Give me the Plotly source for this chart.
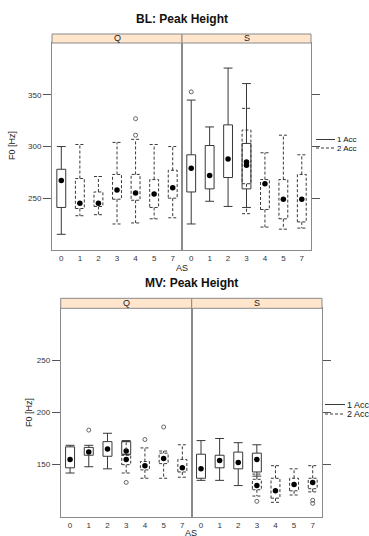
import plotly.graph_objects as go

# ---------------- data ----------------
AS_LABELS = ["0", "1", "2", "3", "4", "5", "7"]

# BL: Peak Height
BL_PANEL = ["Q", "Q", "Q", "Q", "Q", "Q", "Q", "S", "S", "S", "S", "S", "S", "S", "S"]
BL_AS = ["0", "1", "2", "3", "4", "5", "7", "0", "1", "2", "3", "3", "4", "5", "7"]
BL_ACC = [1, 2, 2, 2, 2, 2, 2, 1, 1, 1, 1, 2, 2, 2, 2]
BL_LOW = [215, 233, 234, 225, 226, 230, 231, 225, 247, 242, 241, 235, 222, 220, 221]
BL_Q1 = [241, 240, 242, 249, 248, 241, 250, 256, 259, 270, 259, 264, 239, 230, 227]
BL_MED = [267, 245, 245, 258, 255, 254, 260, 279, 272, 288, 282, 285, 264, 249, 249]
BL_Q3 = [278, 269, 256, 273, 273, 268, 277, 292, 301, 321, 303, 316, 268, 268, 273]
BL_HIGH = [300, 302, 271, 304, 307, 302, 300, 345, 319, 376, 361, 337, 294, 311, 292]
BL_OUT = [[], [], [], [], [311, 327], [], [], [353], [], [], [], [], [], [], []]

# MV: Peak Height
MV_PANEL = ["Q", "Q", "Q", "Q", "Q", "Q", "Q", "Q", "S", "S", "S", "S", "S", "S", "S", "S"]
MV_AS = ["0", "1", "2", "3", "3", "4", "5", "7", "0", "1", "2", "3", "3", "4", "5", "7"]
MV_ACC = [1, 1, 1, 1, 2, 2, 2, 2, 1, 1, 1, 1, 2, 2, 2, 2]
MV_LOW = [142, 148, 146, 159.5, 142, 137, 137, 138, 135, 135, 130, 139, 120, 114, 121, 124]
MV_Q1 = [147, 159, 158, 160, 150, 145, 151, 143, 137, 147, 146, 143, 126, 118, 125, 127]
MV_MED = [155, 162, 165, 163, 155, 149, 156, 147, 146, 154, 152, 155, 130, 125, 131, 133]
MV_Q3 = [167, 166.5, 172, 172, 159, 153, 161, 155, 160, 159, 162, 161, 136, 137, 137, 137]
MV_HIGH = [168.5, 168.5, 180, 173, 172, 166, 163, 169, 173, 175, 171, 169, 141, 149, 146, 149]
MV_OUT = [[], [183], [], [], [133], [174], [186], [], [], [], [], [], [115], [], [], [113, 116]]

BL_YTICKS = [250, 300, 350]
MV_YTICKS = [150, 200, 250]
BL_YRANGE = [199.8, 400.3]
MV_YRANGE = [99.7, 299.4]

# ---------------- layout helpers (pixel -> paper) ----------------
W, H = 369, 536


def px(x):
    return x / W


def py(y):
    return 1 - y / H


BOX_COL = "#383838"
BORDER = "#8a8a8a"
STRIP = "#FFE5CC"
FONT = "Liberation Sans, Arial, sans-serif"
HALF = 0.24

fig = go.Figure()


def add_chart(panels, ases, accs, lows, q1s, meds, q3s, highs, outs, xq, xs, yq, ys):
    for p, a, acc, lo, q1, md, q3, hi, ol in zip(panels, ases, accs, lows, q1s, meds, q3s, highs, outs):
        xa, ya = (xq, yq) if p == "Q" else (xs, ys)
        c = AS_LABELS.index(a)
        xs_path = [c - HALF, c + HALF, c + HALF, c - HALF, c - HALF, None,
                   c, c, None, c - HALF, c + HALF, None,
                   c, c, None, c - HALF, c + HALF]
        ys_path = [q1, q1, q3, q3, q1, None,
                   q3, hi, None, hi, hi, None,
                   q1, lo, None, lo, lo]
        fig.add_trace(go.Scatter(
            x=xs_path, y=ys_path, mode="lines", xaxis=xa, yaxis=ya,
            line=dict(color=BOX_COL, width=1, dash="solid" if acc == 1 else "3px,2px"),
            hoverinfo="skip", showlegend=False, connectgaps=False))
        if ol:
            fig.add_trace(go.Scatter(
                x=[c] * len(ol), y=ol, mode="markers", xaxis=xa, yaxis=ya,
                marker=dict(symbol="circle-open", size=4, color="#666666", line=dict(width=1)),
                hoverinfo="skip", showlegend=False))
        fig.add_trace(go.Scatter(
            x=[c], y=[md], mode="markers", xaxis=xa, yaxis=ya,
            marker=dict(symbol="circle", size=5.5, color="black"),
            hoverinfo="skip", showlegend=False))


add_chart(BL_PANEL, BL_AS, BL_ACC, BL_LOW, BL_Q1, BL_MED, BL_Q3, BL_HIGH, BL_OUT,
          "x", "x2", "y", "y2")
add_chart(MV_PANEL, MV_AS, MV_ACC, MV_LOW, MV_Q1, MV_MED, MV_Q3, MV_HIGH, MV_OUT,
          "x3", "x4", "y3", "y4")

# panel geometry in pixels
TOP = dict(xq=(52, 182), xs=(182, 311), y=(43, 250), strip=(34, 43))
BOT = dict(xq=(60.7, 191.7), xs=(191.7, 322), y=(308.3, 517.3), strip=(298.3, 308.3))

xcommon = dict(range=[-0.5, 6.5], tickvals=list(range(7)), ticktext=AS_LABELS,
               ticks="", showgrid=False, zeroline=False, showline=True, mirror=True,
               linecolor=BORDER, linewidth=1, tickfont=dict(size=8, color="#333", family=FONT))
ycommon = dict(showgrid=False, zeroline=False, showline=True, mirror=True,
               linecolor=BORDER, linewidth=1, ticks="outside", ticklen=8,
               tickcolor="#555", tickwidth=1, tickfont=dict(size=8, color="#333", family=FONT))

fig.update_layout(
    xaxis=dict(domain=[px(TOP["xq"][0]), px(TOP["xq"][1])], anchor="y", **xcommon),
    xaxis2=dict(domain=[px(TOP["xs"][0]), px(TOP["xs"][1])], anchor="y2", **xcommon),
    xaxis3=dict(domain=[px(BOT["xq"][0]), px(BOT["xq"][1])], anchor="y3", **xcommon),
    xaxis4=dict(domain=[px(BOT["xs"][0]), px(BOT["xs"][1])], anchor="y4", **xcommon),
    yaxis=dict(domain=[py(TOP["y"][1]), py(TOP["y"][0])], anchor="x", range=BL_YRANGE,
               tickvals=BL_YTICKS, side="left", **ycommon),
    yaxis2=dict(domain=[py(TOP["y"][1]), py(TOP["y"][0])], anchor="x2", range=BL_YRANGE,
                tickvals=BL_YTICKS, side="right", showticklabels=False, **ycommon),
    yaxis3=dict(domain=[py(BOT["y"][1]), py(BOT["y"][0])], anchor="x3", range=MV_YRANGE,
                tickvals=MV_YTICKS, side="left", **ycommon),
    yaxis4=dict(domain=[py(BOT["y"][1]), py(BOT["y"][0])], anchor="x4", range=MV_YRANGE,
                tickvals=MV_YTICKS, side="right", showticklabels=False, **ycommon),
    width=W, height=H, margin=dict(l=0, r=0, t=0, b=0),
    paper_bgcolor="white", plot_bgcolor="white", showlegend=False,
    font=dict(family=FONT, color="#222"),
)

shapes = []
annotations = []

for g, title, tx in ((TOP, "BL: Peak Height", 19), (BOT, "MV: Peak Height", 283)):
    # strips
    for key, lab in (("xq", "Q"), ("xs", "S")):
        x0, x1 = g[key]
        shapes.append(dict(type="rect", xref="paper", yref="paper",
                           x0=px(x0), x1=px(x1), y0=py(g["strip"][1]), y1=py(g["strip"][0]),
                           fillcolor=STRIP, line=dict(color=BORDER, width=1), layer="above"))
        annotations.append(dict(xref="paper", yref="paper", x=px((x0 + x1) / 2),
                                y=py((g["strip"][0] + g["strip"][1]) / 2), text=lab,
                                showarrow=False, font=dict(size=9, color="#222", family=FONT),
                                xanchor="center", yanchor="middle"))
    cx = (g["xq"][0] + g["xs"][1]) / 2
    annotations.append(dict(xref="paper", yref="paper", x=px(cx), y=py(tx),
                            text="<b>" + title + "</b>", showarrow=False,
                            font=dict(size=12, color="#111", family=FONT),
                            xanchor="center", yanchor="middle"))

# axis titles
annotations += [
    dict(xref="paper", yref="paper", x=px(181.5), y=py(268), text="AS", showarrow=False,
         font=dict(size=9, color="#222", family=FONT), xanchor="center", yanchor="middle"),
    dict(xref="paper", yref="paper", x=px(191), y=py(533), text="AS", showarrow=False,
         font=dict(size=9, color="#222", family=FONT), xanchor="center", yanchor="middle"),
    dict(xref="paper", yref="paper", x=px(12), y=py(146), text="F0 [Hz]", textangle=-90,
         showarrow=False, font=dict(size=9, color="#222", family=FONT),
         xanchor="center", yanchor="middle"),
    dict(xref="paper", yref="paper", x=px(29), y=py(413), text="F0 [Hz]", textangle=-90,
         showarrow=False, font=dict(size=9, color="#222", family=FONT),
         xanchor="center", yanchor="middle"),
]

# legends (keys)
LEG_LABELS = ["1 Acc", "2 Acc"]
LEG_DASH = ["solid", "3px,2px"]
for (lx0, lx1, ly, fs) in ((316, 335, (139.5, 148), 8), (325, 345, (404.5, 414), 9)):
    for lab, dash, yy in zip(LEG_LABELS, LEG_DASH, ly):
        shapes.append(dict(type="line", xref="paper", yref="paper",
                           x0=px(lx0), x1=px(lx1), y0=py(yy), y1=py(yy),
                           line=dict(color=BOX_COL, width=1, dash=dash)))
        annotations.append(dict(xref="paper", yref="paper", x=px(lx1), y=py(yy), text=lab,
                                showarrow=False, xanchor="left", yanchor="middle",
                                font=dict(size=fs, color="#111", family=FONT)))

fig.update_layout(shapes=shapes, annotations=annotations)
fig.write_html(
    "out.html",
    config={"displayModeBar": False},
    post_script="document.body.style.margin='0';document.body.style.overflow='hidden';",
)
